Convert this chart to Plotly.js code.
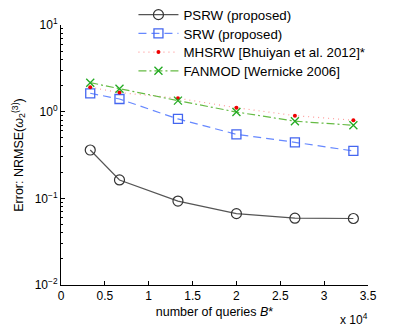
<!DOCTYPE html>
<html>
<head>
<meta charset="utf-8">
<script src="https://cdn.plot.ly/plotly-3.0.1.min.js"></script>
<style>
  html, body { margin: 0; padding: 0; background: #fff; }
  #chart { width: 407px; height: 326px; }
</style>
</head>
<body>
<div id="chart"></div>
<script>
// number of queries B*
const queries = [3333, 6667, 13333, 20000, 26667, 33333];

// NRMSE values
const psrw = [0.361, 0.163, 0.093, 0.0666, 0.059, 0.0585];
const srw = [1.63, 1.40, 0.824, 0.548, 0.443, 0.352];
const mhsrw = [1.91, 1.66, 1.43, 1.11, 0.90, 0.796];
const fanmod = [2.16, 1.84, 1.34, 0.99, 0.776, 0.697];

const xTickVals = [0, 5000, 10000, 15000, 20000, 25000, 30000, 35000];
const xTickText = ['0', '0.5', '1', '1.5', '2', '2.5', '3', '3.5'];
const yTickVals = [0.01, 0.1, 1, 10];
const yTickText = ['10<sup>−2</sup>', '10<sup>−1</sup>', '10<sup>0</sup>', '10<sup>1</sup>'];

const font = 'Liberation Sans, Arial, Helvetica, sans-serif';

const data = [
    {
        x: queries, y: psrw, type: 'scatter', mode: 'lines+markers',
        name: 'PSRW (proposed)', legend: 'legend',
        line: { color: '#555555', width: 1.2 },
        marker: { symbol: 'circle-open', size: 10, color: '#333333', line: { width: 1.2 } }
    },
    {
        x: queries, y: srw, type: 'scatter', mode: 'lines+markers',
        name: 'SRW (proposed)', legend: 'legend2',
        line: { color: '#6688ff', width: 1.2, dash: '8px,5px' },
        marker: { symbol: 'square-open', size: 9, color: '#4466f0', line: { width: 1.3 } }
    },
    {
        x: queries, y: mhsrw, type: 'scatter', mode: 'lines+markers',
        name: 'MHSRW [Bhuiyan et al. 2012]*', legend: 'legend3',
        line: { color: '#ff9a9a', width: 1.2, dash: '1px,4px' },
        marker: { symbol: 'circle', size: 4, color: '#ee0000' }
    },
    {
        x: queries, y: fanmod, type: 'scatter', mode: 'lines+markers',
        name: 'FANMOD [Wernicke 2006]', legend: 'legend4',
        line: { color: '#66bb44', width: 1.2, dash: '8px,3px,2px,3px' },
        marker: { symbol: 'x-thin-open', size: 8, color: '#22aa22', line: { width: 1.3, color: '#22aa22' } }
    }
];

// one legend per row so the row spacing can follow the reference
function legendAt(y) {
    return {
        x: 0.236, y: y, xanchor: 'left', yanchor: 'top',
        bgcolor: 'rgba(0,0,0,0)', borderwidth: 0,
        font: { family: font, size: 13.3, color: '#000' },
        itemwidth: 40
    };
}

const layout = {
    width: 407, height: 326,
    margin: { l: 61, r: 39, t: 25, b: 41, autoexpand: false },
    paper_bgcolor: '#fff', plot_bgcolor: '#fff',
    font: { family: font, size: 12, color: '#000' },
    showlegend: true,
    legend: legendAt(1.098),
    legend2: legendAt(1.026),
    legend3: legendAt(0.954),
    legend4: legendAt(0.882),
    xaxis: {
        range: [0, 35000],
        tickmode: 'array', tickvals: xTickVals, ticktext: xTickText,
        ticks: 'inside', ticklen: 4, tickcolor: '#000',
        showline: true, linecolor: '#000', linewidth: 1,
        showgrid: false, zeroline: false,
        tickfont: { size: 12 },
        title: { text: 'number of queries <i>B</i>*', font: { size: 12.5 }, standoff: 4 }
    },
    yaxis: {
        type: 'log', range: [-2, 1],
        tickmode: 'array', tickvals: yTickVals, ticktext: yTickText,
        ticks: 'inside', ticklen: 4, tickcolor: '#000',
        minor: { dtick: 'D1', ticks: 'inside', ticklen: 2, tickcolor: '#000', showgrid: false },
        showline: true, linecolor: '#000', linewidth: 1,
        showgrid: false, zeroline: false,
        tickfont: { size: 12 },
        title: { text: 'Error: NRMSE(<i>ω</i><sub>2</sub><sup>(3)</sup>)', font: { size: 12.5 }, standoff: 8 }
    },
    annotations: [
        {
            text: 'x 10<sup>4</sup>', xref: 'paper', yref: 'paper',
            x: 0.955, y: -0.092, xanchor: 'center', yanchor: 'top',
            showarrow: false, font: { size: 12 }
        }
    ]
};

Plotly.newPlot('chart', data, layout, { displayModeBar: false, staticPlot: true });
</script>
</body>
</html>
